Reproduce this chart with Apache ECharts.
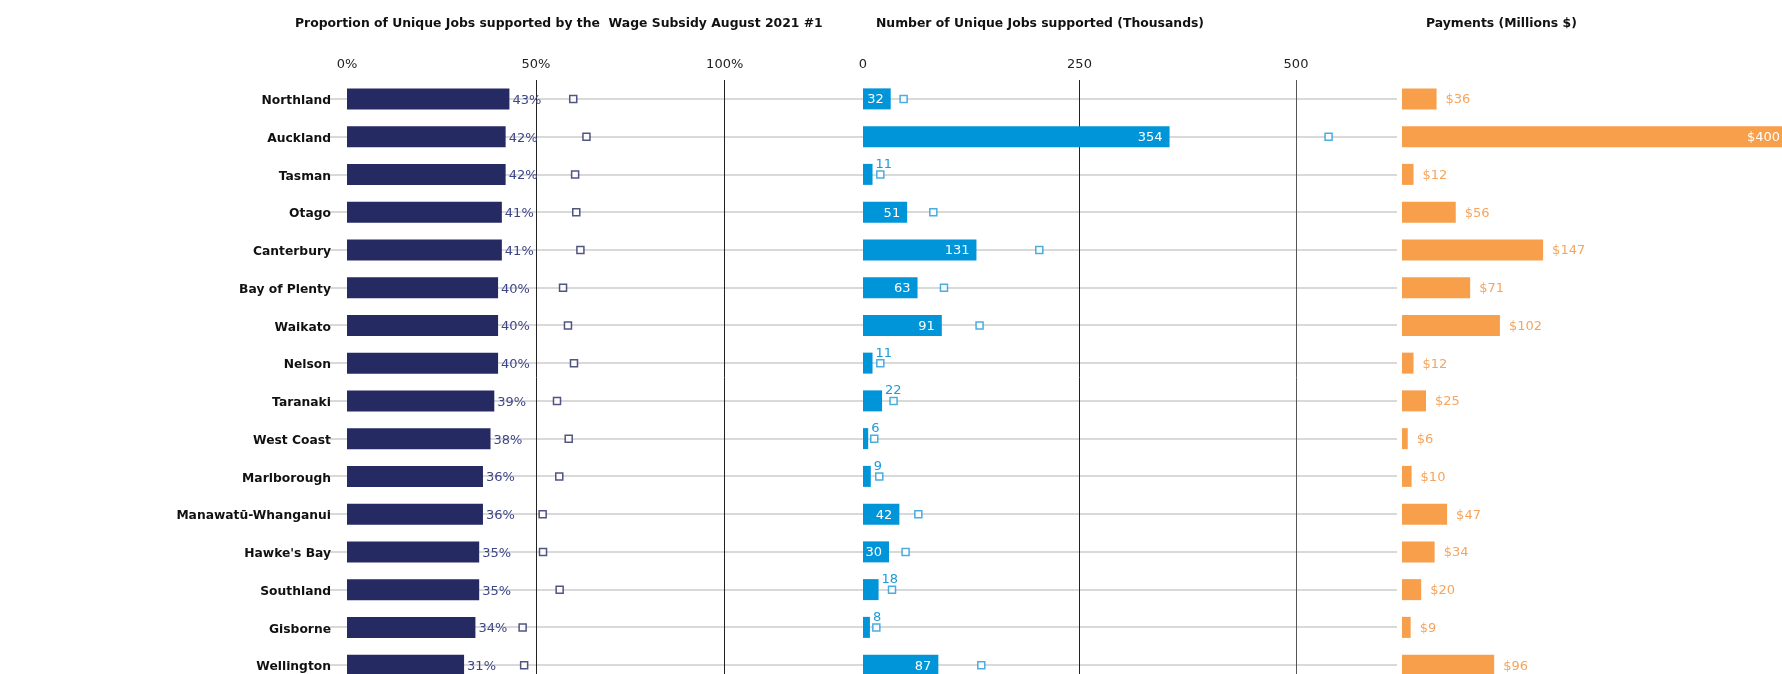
<!DOCTYPE html>
<html>
<head>
<meta charset="utf-8">
<script src="https://cdn.jsdelivr.net/npm/echarts@6/dist/echarts.min.js"></script>
<style>
  html, body { margin: 0; padding: 0; background: #ffffff; }
  #chart { width: 1782px; height: 674px; }
</style>
</head>
<body>
<div id="chart"></div>
<script>
// Regions, ordered by share of jobs supported
const regions = [
  'Northland', 'Auckland', 'Tasman', 'Otago', 'Canterbury', 'Bay of Plenty',
  'Waikato', 'Nelson', 'Taranaki', 'West Coast', 'Marlborough',
  'Manawatū-Whanganui', "Hawke's Bay", 'Southland', 'Gisborne', 'Wellington'
];

// Proportion of unique jobs supported (%), with comparison markers
const proportion = [43, 42, 42, 41, 41, 40, 40, 40, 39, 38, 36, 36, 35, 35, 34, 31];
const proportionMarker = [59.9, 63.4, 60.4, 60.7, 61.8, 57.2, 58.5, 60.1, 55.6, 58.7, 56.2, 51.8, 51.9, 56.3, 46.5, 46.9];

// Number of unique jobs supported (thousands), with comparison markers
const jobs = [32, 354, 11, 51, 131, 63, 91, 11, 22, 6, 9, 42, 30, 18, 8, 87];
const jobsMarker = [46.9, 537.6, 20, 81.2, 203.6, 93.5, 134.6, 20, 35.3, 13, 18.8, 63.9, 49.2, 33.5, 15.4, 136.6];

// Payments (millions $)
const payments = [36, 400, 12, 56, 147, 71, 102, 12, 25, 6, 10, 47, 34, 20, 9, 96];

// Axis ticks
const proportionTicks = { min: 0, max: 130, interval: 50 };
const jobsTicks = { min: 0, max: 600, interval: 250 };

const FONT = 'DejaVu Sans';
const NAVY = '#262a63';
const NAVY_TEXT = '#3d4787';
const BLUE = '#0095d9';
const BLUE_TEXT = '#1e9ad8';
const ORANGE = '#f79f4b';
const ORANGE_TEXT = '#f7a45c';
const CLEAR = 'rgba(0,0,0,0)';

const bandTop = 80;
const bandHeight = 604;

const chart = echarts.init(document.getElementById('chart'), null, { renderer: 'canvas' });

function hiddenCategory(gridIndex) {
  return {
    type: 'category', gridIndex, data: regions, inverse: true,
    axisLine: { show: false }, axisTick: { show: false },
    axisLabel: { show: false }, splitLine: { show: false }
  };
}

// panels run past the bottom edge of the canvas, so bounds are not enforced
function panel(rect) {
  return Object.assign({ outerBoundsMode: 'none', containLabel: false }, rect);
}

const option = {
  animation: false,
  backgroundColor: '#ffffff',
  title: [
    { text: 'Proportion of Unique Jobs supported by the  Wage Subsidy August 2021 #1', left: 295, top: 18 },
    { text: 'Number of Unique Jobs supported (Thousands)', left: 876, top: 18 },
    { text: 'Payments (Millions $)', left: 1426, top: 18 }
  ].map(t => Object.assign(t, {
    padding: 0,
    textStyle: { fontFamily: FONT, fontSize: 12.4, fontWeight: 'bold', color: '#111111' }
  })),
  grid: [
    panel({ left: 347, top: bandTop, width: 491, height: bandHeight }),
    panel({ left: 863, top: bandTop, width: 519.6, height: bandHeight }),
    panel({ left: 1402, top: bandTop, width: 384, height: bandHeight }),
    // row guide lines running through the first two panels
    panel({ left: 330, top: 98.8, width: 1067, height: 566 })
  ],
  xAxis: [
    {
      type: 'value', gridIndex: 0, position: 'top',
      min: proportionTicks.min, max: proportionTicks.max, interval: proportionTicks.interval,
      axisLine: { show: false }, axisTick: { show: false },
      axisLabel: { formatter: '{value}%', fontFamily: FONT, fontSize: 13, color: '#222', margin: 9, showMaxLabel: false },
      splitLine: { show: true, lineStyle: { color: [CLEAR, '#222', '#222', CLEAR], width: 1 } }
    },
    {
      type: 'value', gridIndex: 1, position: 'top',
      min: jobsTicks.min, max: jobsTicks.max, interval: jobsTicks.interval,
      axisLine: { show: false }, axisTick: { show: false },
      axisLabel: { fontFamily: FONT, fontSize: 13, color: '#222', margin: 9, showMaxLabel: false },
      splitLine: { show: true, lineStyle: { color: [CLEAR, '#222', '#555', CLEAR], width: 1 } }
    },
    {
      type: 'value', gridIndex: 2, min: 0, max: 400,
      axisLine: { show: false }, axisTick: { show: false },
      axisLabel: { show: false }, splitLine: { show: false }
    },
    {
      type: 'value', gridIndex: 3, min: 0, max: 1, show: false
    }
  ],
  yAxis: [
    {
      type: 'category', gridIndex: 0, data: regions, inverse: true,
      axisLine: { show: false }, axisTick: { show: false },
      axisLabel: {
        fontFamily: FONT, fontSize: 12.3, fontWeight: 'bold', color: '#111', margin: 16,
        verticalAlign: 'top', lineHeight: 4
      },
      splitLine: { show: false }
    },
    hiddenCategory(1),
    hiddenCategory(2),
    {
      type: 'category', gridIndex: 3, data: regions, inverse: true, boundaryGap: false,
      axisLine: { show: false }, axisTick: { show: false }, axisLabel: { show: false },
      splitLine: { show: true, interval: 0, lineStyle: { color: '#d9d9d9', width: 2 } }
    }
  ],
  series: [
    {
      name: 'Proportion', type: 'bar', xAxisIndex: 0, yAxisIndex: 0,
      data: proportion, barWidth: 21, z: 3,
      itemStyle: { color: NAVY },
      label: {
        show: true, position: 'right', distance: 3, offset: [0, 1.5], formatter: '{c}%',
        fontFamily: FONT, fontSize: 13, color: NAVY_TEXT
      }
    },
    {
      name: 'Proportion marker', type: 'scatter', xAxisIndex: 0, yAxisIndex: 0,
      data: proportionMarker.map((v, i) => [v, regions[i]]),
      symbol: 'rect', symbolSize: 7, z: 4,
      itemStyle: { color: '#ffffff', borderColor: NAVY, borderWidth: 1.5 }
    },
    {
      name: 'Jobs', type: 'bar', xAxisIndex: 1, yAxisIndex: 1,
      barWidth: 21, z: 3,
      itemStyle: { color: BLUE },
      data: jobs.map(v => v >= 30 ? { value: v } : {
        value: v,
        label: { position: 'right', distance: 3, offset: [0, -10], color: BLUE_TEXT }
      }),
      label: {
        show: true, position: 'insideRight', distance: 7, offset: [0, 1],
        fontFamily: FONT, fontSize: 13, color: '#ffffff'
      }
    },
    {
      name: 'Jobs marker', type: 'scatter', xAxisIndex: 1, yAxisIndex: 1,
      data: jobsMarker.map((v, i) => [v, regions[i]]),
      symbol: 'rect', symbolSize: 7, z: 4,
      itemStyle: { color: '#ffffff', borderColor: BLUE_TEXT, borderWidth: 1.5 }
    },
    {
      name: 'Payments', type: 'bar', xAxisIndex: 2, yAxisIndex: 2,
      barWidth: 21, z: 3,
      itemStyle: { color: ORANGE },
      data: payments.map(v => v > 300 ? {
        value: v,
        label: { position: 'insideRight', distance: 6, color: '#ffffff' }
      } : { value: v }),
      label: {
        show: true, position: 'right', distance: 9, offset: [0, 1], formatter: '${c}',
        fontFamily: FONT, fontSize: 13, color: ORANGE_TEXT
      }
    }
  ]
};

chart.setOption(option);
</script>
</body>
</html>
